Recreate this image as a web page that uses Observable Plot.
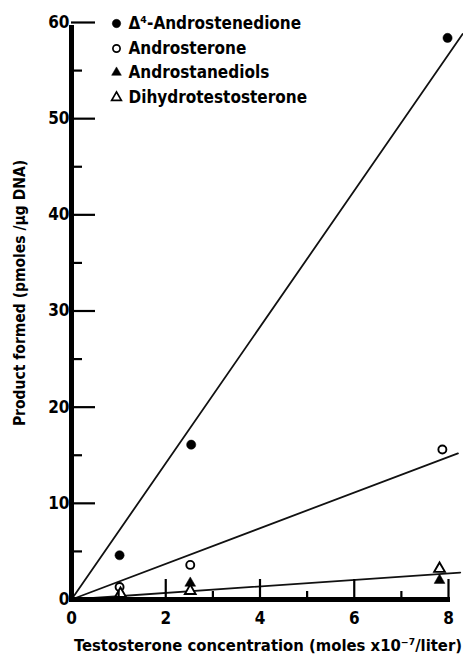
<!DOCTYPE html>
<html><head><meta charset="utf-8">
<script src="https://cdn.jsdelivr.net/npm/d3@7"></script>
<script src="https://cdn.jsdelivr.net/npm/@observablehq/plot@0.6"></script>
<style>body{margin:0;background:#fff}</style>
</head><body><div id="chart"></div>
<script>
// Series names (legend)
const seriesNames = ["Δ⁴-Androstenedione", "Androsterone", "Androstanediols", "Dihydrotestosterone"];
// Observed points (x = testosterone concentration, y = product formed)
const androstenedioneX = [1.02, 2.54, 7.98];
const androstenedioneY = [4.6, 16.1, 58.4];
const androsteroneX = [1.02, 2.52, 7.87];
const androsteroneY = [1.3, 3.6, 15.6];
const androstanediolsX = [1.04, 2.52, 7.81];
const androstanediolsY = [0.3, 1.7, 2.0];
const dhtX = [1.04, 2.52, 7.81];
const dhtY = [0.6, 0.9, 3.2];
// Fitted lines, endpoints
const fitAndrostenedioneX = [0, 8.3], fitAndrostenedioneY = [0, 58.8];
const fitAndrosteroneX = [0, 8.2], fitAndrosteroneY = [0, 15.2];
const fitLowX = [0, 8.25], fitLowY = [0, 2.8];
// Tick values
const yMajor = [10, 20, 30, 40, 50, 60];
const yMinor = [5, 15, 25, 35, 45, 55];
const yLabels = [0, 10, 20, 30, 40, 50, 60];
const xMajor = [2, 4, 6, 8];
const xMinor = [1, 3, 5, 7];
const xLabels = [0, 2, 4, 6, 8];
const xTitle = "Testosterone concentration (moles x10⁻⁷/liter)";
const yTitle = "Product formed (pmoles /µg DNA)";

const W = 463, H = 656, mL = 71, mR = 15, mT = 22, mB = 57;
const frameW = W - mL - mR, frameH = H - mT - mB;

const zip = (xs, ys) => xs.map((x, i) => ({x, y: ys[i]}));
const pts = [
  {data: zip(androstenedioneX, androstenedioneY), symbol: "circle", filled: true, r: 4.6, lr: 4.2},
  {data: zip(androsteroneX, androsteroneY), symbol: "circle", filled: false, r: 4, lr: 3.6},
  {data: zip(androstanediolsX, androstanediolsY), symbol: "triangle", filled: true, r: 4, lr: 3.6},
  {data: zip(dhtX, dhtY), symbol: "triangle", filled: false, r: 4, lr: 3.6}
];
const fits = [zip(fitAndrostenedioneX, fitAndrostenedioneY), zip(fitAndrosteroneX, fitAndrosteroneY), zip(fitLowX, fitLowY)];

const font = "'DejaVu Sans Condensed', 'Liberation Sans Narrow', sans-serif";
const rowDy = [1, 26, 50, 75];

const marks = [];
fits.forEach(f => marks.push(Plot.line(f, {x: "x", y: "y", stroke: "#111", strokeWidth: 1.8})));
pts.forEach((p, i) => {
  marks.push(Plot.dot(p.data, {x: "x", y: "y", symbol: p.symbol, r: p.r,
    fill: p.filled ? "#000" : "#fff", stroke: "#000", strokeWidth: p.filled ? 0.5 : 1.9}));
  marks.push(Plot.dot([seriesNames[i]], {frameAnchor: "top-left", dx: 45, dy: rowDy[i], symbol: p.symbol, r: p.lr,
    fill: p.filled ? "#000" : "#fff", stroke: "#000", strokeWidth: p.filled ? 0.5 : 1.7}));
  marks.push(Plot.text([seriesNames[i]], {frameAnchor: "top-left", dx: 57, dy: rowDy[i], text: d => d,
    textAnchor: "start", lineAnchor: "middle", fontSize: 17, fontWeight: "bold", fill: "#000"}));
});
marks.push(
  Plot.ruleX([0], {y1: 0, y2: 60, strokeWidth: 5, stroke: "#000", insetBottom: -3}),
  Plot.ruleY([0], {x1: 0, x2: 8, strokeWidth: 5, stroke: "#000", insetLeft: -2, insetRight: -2}),
  Plot.tickY(yMajor, {y: d => d, insetRight: frameW - 24, stroke: "#000", strokeWidth: 2.2}),
  Plot.tickY(yMinor, {y: d => d, insetRight: frameW - 11, stroke: "#000", strokeWidth: 2.2}),
  Plot.tickX(xMajor, {x: d => d, insetTop: frameH - 20, stroke: "#000", strokeWidth: 2.2}),
  Plot.tickX(xMinor, {x: d => d, insetTop: frameH - 8, stroke: "#000", strokeWidth: 2.2}),
  Plot.text(yLabels, {x: 0, y: d => d, text: d => String(d), textAnchor: "end", dx: -2, fontSize: 17, fontWeight: "bold", fill: "#000"}),
  Plot.text(xLabels, {x: d => d, y: 0, text: d => String(d), dy: 19, fontSize: 17, fontWeight: "bold", fill: "#000"}),
  Plot.text([xTitle], {frameAnchor: "bottom", dx: 8, dy: 46, lineAnchor: "middle", textAnchor: "middle", text: d => d, fontSize: 16.5, fontWeight: "bold", fill: "#000"}),
  Plot.text([yTitle], {frameAnchor: "left", dx: -51, dy: -18, rotate: -90, textAnchor: "middle", lineAnchor: "middle", text: d => d, fontSize: 15.5, fontWeight: "bold", fill: "#000"})
);

const chart = Plot.plot({
  width: W, height: H,
  marginLeft: mL, marginRight: mR, marginTop: mT, marginBottom: mB,
  x: {domain: [0, 8], axis: null},
  y: {domain: [0, 60], axis: null},
  style: {fontFamily: font, background: "#fff", color: "#000"},
  marks
});
document.getElementById("chart").appendChild(chart);
</script>
</body></html>
